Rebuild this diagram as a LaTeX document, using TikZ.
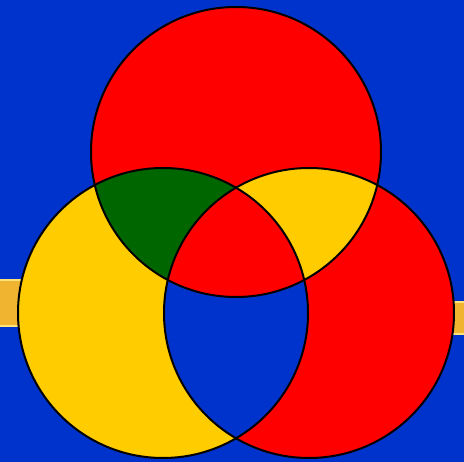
\documentclass[tikz,border=0pt]{standalone}
\definecolor{bgblue}{RGB}{0,51,204}
\definecolor{vred}{RGB}{255,0,0}
\definecolor{vyel}{RGB}{255,204,0}
\definecolor{vgreen}{RGB}{0,102,0}
\definecolor{bandin}{RGB}{240,180,48}
\definecolor{bandedge}{RGB}{255,226,120}
\tikzset{
  outline/.style={draw=black, line width=2pt},
  bandbox/.style={fill=bandin, draw=bandedge, line width=2pt}
}
\begin{document}
\begin{tikzpicture}[x=1pt,y=-1pt]
\path[use as bounding box, fill=bgblue] (0,0) rectangle (464,462);
% yellow bands at the edges
\path[bandbox] (-3,280) rectangle (24,326);
\path[bandbox] (448,302) rectangle (467,334);
% circle fills
\def\topc{(236,152) circle[radius=145pt]}
\def\leftc{(163,313) circle[radius=145pt]}
\def\rightc{(309,313) circle[radius=145pt]}
\fill[vred] \topc;
\fill[vyel] \leftc;
\fill[vred] \rightc;
\begin{scope}
  \clip \topc;
  \fill[vgreen] \leftc;
\end{scope}
\begin{scope}
  \clip \topc;
  \fill[vyel] \rightc;
\end{scope}
\begin{scope}
  \clip \leftc;
  \fill[bgblue] \rightc;
\end{scope}
\begin{scope}
  \clip \topc;
  \clip \leftc;
  \fill[vred] \rightc;
\end{scope}
% outlines
\path[outline] \topc;
\path[outline] \leftc;
\path[outline] \rightc;
\end{tikzpicture}
\end{document}
